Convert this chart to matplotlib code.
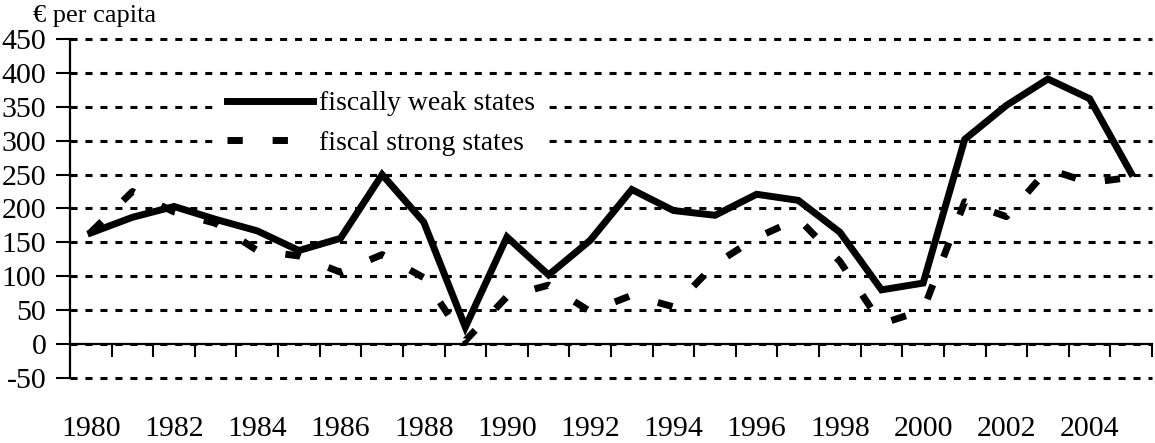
import matplotlib
matplotlib.use("Agg")
import matplotlib.pyplot as plt

# Data
years = list(range(1980, 2006))
weak = [164, 187, 203, 184, 167, 138, 156, 250, 180, 25,
        158, 102, 153, 228, 197, 190, 221, 212, 165, 80,
        90, 302, 352, 391, 362, 252]
strong = [165, 225, 195, 178, 138, 130, 106, 132, 98, 5,
          70, 87, 48, 72, 55, 118, 157, 185, 122, 30,
          50, 210, 188, 258, 238, 246]
yticks = list(range(-50, 451, 50))

plt.rcParams['font.family'] = ['Liberation Serif', 'DejaVu Serif']

fig = plt.figure(figsize=(11.55, 4.43), dpi=100)
ax = fig.add_axes([70 / 1155, 1 - 378 / 443, 1082 / 1155, 339 / 443])

x = list(range(len(years)))
ax.plot(x, weak, color='black', lw=5, solid_joinstyle='miter',
        label='fiscally weak states', zorder=3)
ax.plot(x, strong, color='black', lw=5, linestyle=(0, (2.2, 4.3)),
        dash_capstyle='butt', label='fiscal strong states', zorder=3)

ax.set_xlim(-0.5, len(years) - 0.5)
ax.set_ylim(-50, 450)
ax.set_yticks(yticks)
ax.set_yticklabels([str(v) for v in yticks])

# category axis: marks at boundaries, labels every other year
ax.set_xticks([i for i in x if years[i] % 2 == 0])
ax.set_xticklabels([str(y) for y in years if y % 2 == 0])
ax.set_xticks([i + 0.5 for i in x], minor=True)
ax.tick_params(axis='x', which='major', length=0, pad=52, labelsize=21.5)
ax.tick_params(axis='x', which='minor', length=9, width=1.5, direction='out')
ax.tick_params(axis='y', length=10, width=1.5, direction='out', pad=7, labelsize=21.5)

for s in ['top', 'right']:
    ax.spines[s].set_visible(False)
ax.spines['bottom'].set_position(('data', 0))
ax.spines['bottom'].set_linewidth(1.6)
ax.spines['left'].set_linewidth(1.6)

ax.yaxis.grid(True, color='black', lw=2.2, linestyle=(0, (2.3, 2.6)), zorder=1)
for gl in ax.get_ygridlines():
    gl.set_clip_on(False)
ax.set_axisbelow(True)

leg = ax.legend(loc='upper left', bbox_to_anchor=(0.135, 0.88), fontsize=20,
                handlelength=3.1, handletextpad=0.2, labelspacing=0.5,
                borderpad=0.4, borderaxespad=0, frameon=True, fancybox=False)
leg.get_frame().set_facecolor('white')
leg.get_frame().set_edgecolor('none')
leg.get_frame().set_alpha(1)

fig.text(33 / 1155, 1 - 22 / 443, '€ per capita', fontsize=19, va='baseline', ha='left')

fig.savefig('out.png', dpi=100)
